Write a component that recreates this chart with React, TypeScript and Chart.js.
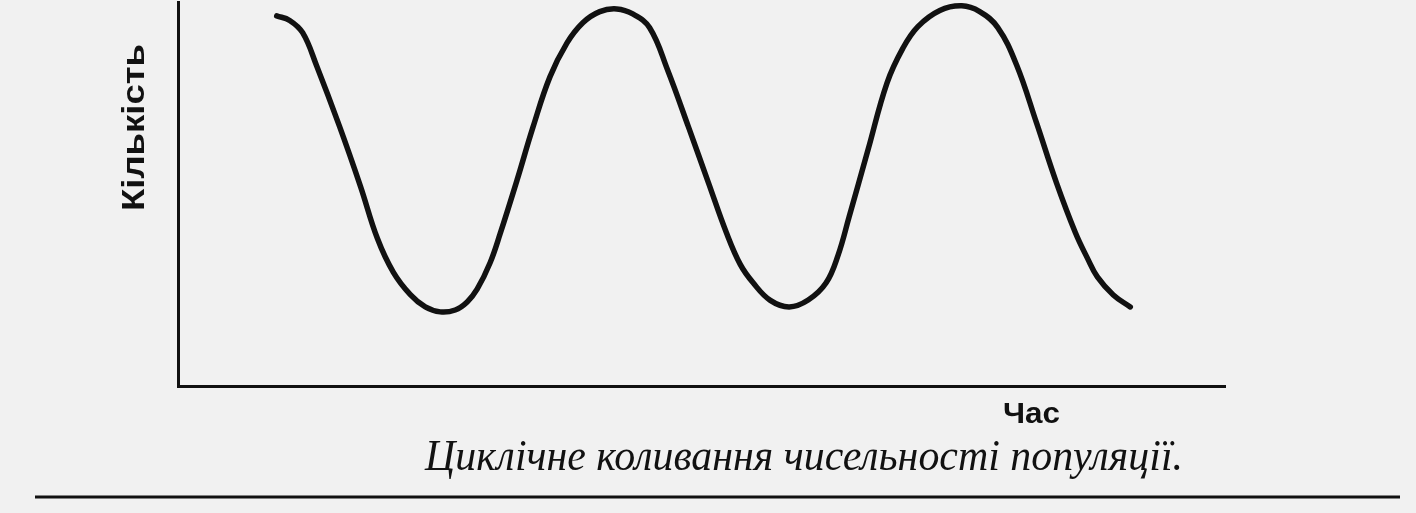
import React, { useEffect, useRef } from "react";
import { Chart, registerables } from "chart.js";

Chart.register(...registerables);

// Time (x) and population count (y)
const timeValues = [
  9.9, 11.2, 12.5, 13.9, 16.2, 18.3, 20.0, 21.6, 23.3, 24.8, 26.3, 27.8, 29.0, 30.0, 31.3, 32.3, 34.0,
  35.6, 37.3, 39.0, 40.6, 42.3, 44.0, 45.6, 47.3, 49.1, 51.2, 53.2, 55.0, 56.4, 57.7, 59.4, 61.3,
  63.2, 65.0, 66.2, 67.3, 69.2, 71.1, 72.7, 74.2, 76.4, 78.6, 80.4, 82.2, 84.1, 86.1, 88.1, 90.0,
  91.2, 92.2, 93.8, 95.5,
];
const countValues = [
  96.4, 95.2, 92.0, 83.4, 67.6, 52.0, 38.4, 29.6, 23.8, 20.6, 19.3, 19.8, 21.9, 25.2, 32.1, 39.6, 53.6,
  67.4, 80.5, 89.3, 94.6, 97.5, 98.2, 96.9, 93.3, 82.3, 67.4, 52.9, 39.9, 31.6, 26.8, 22.3, 20.6,
  22.4, 26.9, 34.1, 44.0, 61.5, 78.9, 88.0, 93.6, 97.8, 99.0, 97.5, 93.4, 83.6, 68.5, 52.9, 39.9,
  33.3, 28.4, 23.7, 20.6,
];

const yAxisLabel = "Кількість";
const xAxisLabel = "Час";
const captionText = "Циклічне коливання чисельності популяції.";

const W = 1416;
const H = 513;

function fitText(ctx: CanvasRenderingContext2D, text: string, x: number, y: number, width: number) {
  const w = ctx.measureText(text).width;
  ctx.save();
  ctx.translate(x, y);
  ctx.scale(width / w, 1);
  ctx.fillText(text, 0, 0);
  ctx.restore();
}

const paperPlugin = {
  id: "paper",
  beforeDraw(chart: any) {
    const ctx = chart.ctx as CanvasRenderingContext2D;
    ctx.save();
    ctx.fillStyle = "#f1f1f1";
    ctx.fillRect(0, 0, chart.width, chart.height);
    ctx.restore();
  },
  afterDraw(chart: any) {
    const ctx = chart.ctx as CanvasRenderingContext2D;
    ctx.save();
    ctx.fillStyle = "#111";
    // y label (rotated)
    ctx.save();
    ctx.translate(135, 128);
    ctx.rotate(-Math.PI / 2);
    ctx.font = "bold 31px 'Liberation Sans', Arial, sans-serif";
    ctx.textAlign = "left";
    ctx.textBaseline = "middle";
    fitText(ctx, yAxisLabel, -83, 0, 167);
    ctx.restore();
    // x label
    ctx.font = "bold 29px 'Liberation Sans', Arial, sans-serif";
    ctx.textAlign = "left";
    ctx.textBaseline = "alphabetic";
    fitText(ctx, xAxisLabel, 1003, 423, 57);
    // caption
    ctx.font = "italic 44px 'Liberation Serif', 'Times New Roman', serif";
    fitText(ctx, captionText, 425, 470, 758);
    // separator line
    ctx.strokeStyle = "#111";
    ctx.lineWidth = 3;
    ctx.beginPath();
    ctx.moveTo(35, 497);
    ctx.lineTo(1400, 497);
    ctx.stroke();
    ctx.restore();
  },
};

export default function App() {
  const ref = useRef<HTMLCanvasElement>(null);
  useEffect(() => {
    document.body.style.margin = "0";
    const canvas = ref.current!;
    const chart = new Chart(canvas, {
      type: "line",
      data: {
        datasets: [
          {
            data: timeValues.map((t, i) => ({ x: t, y: countValues[i] })),
            borderColor: "#111",
            borderWidth: 5.5,
            pointRadius: 0,
            tension: 0.4,
            fill: false,
            borderCapStyle: "round",
            borderJoinStyle: "round",
          },
        ],
      },
      options: {
        responsive: false,
        animation: false,
        events: [],
        layout: { padding: { left: 178, right: W - 1225, top: 2, bottom: H - 386 } },
        plugins: { legend: { display: false }, tooltip: { enabled: false }, title: { display: false } },
        scales: {
          x: {
            type: "linear",
            min: 0,
            max: 105,
            grid: { display: false, drawTicks: false },
            ticks: { display: false },
            border: { display: true, color: "#111", width: 3 },
          },
          y: {
            min: 0,
            max: 100,
            grid: { display: false, drawTicks: false },
            ticks: { display: false },
            border: { display: true, color: "#111", width: 3 },
          },
        },
      },
      plugins: [paperPlugin],
    });
    return () => chart.destroy();
  }, []);
  return (
    <div style={{ position: "absolute", left: 0, top: 0, width: W, height: H }}>
      <canvas ref={ref} width={W} height={H} style={{ display: "block" }} />
    </div>
  );
}
